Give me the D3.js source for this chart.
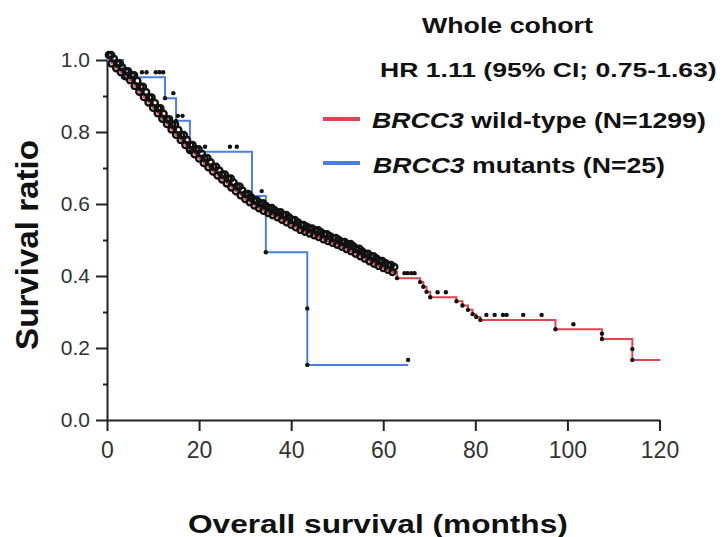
<!DOCTYPE html>
<html>
<head>
<meta charset="utf-8">
<script src="https://cdn.jsdelivr.net/npm/d3@7"></script>
<style>
  html, body { margin: 0; padding: 0; background: #fff; }
  svg { display: block; font-family: "Liberation Sans", Arial, sans-serif; }
</style>
</head>
<body>
<svg width="726" height="537"></svg>
<script>
const width = 726, height = 537;
const svg = d3.select("svg");

// Kaplan-Meier steps [months, survival]
const wildCurve = [
  [0, 1.0], [1, 0.99], [2, 0.977], [3, 0.966], [4, 0.955], [5, 0.944], [6, 0.928], [7, 0.912],
  [8, 0.897], [9, 0.882], [10, 0.867], [11, 0.852], [12, 0.837], [13, 0.822], [14, 0.807],
  [15, 0.792], [16, 0.778], [17, 0.764], [18, 0.75], [19, 0.738], [20, 0.726], [21, 0.714],
  [22, 0.702], [23, 0.69], [24, 0.679], [25, 0.668], [26, 0.657], [27, 0.646], [28, 0.635],
  [29, 0.624], [30, 0.614], [31, 0.605], [32, 0.596], [33, 0.588], [34, 0.581], [35, 0.575],
  [36, 0.569], [37, 0.563], [38, 0.556], [39, 0.549], [40, 0.542], [41, 0.535], [42, 0.528],
  [43, 0.523], [44, 0.518], [45, 0.513], [46, 0.508], [47, 0.502], [48, 0.497], [49, 0.492],
  [50, 0.487], [51, 0.481], [52, 0.475], [53, 0.469], [54, 0.462], [55, 0.455], [56, 0.448],
  [57, 0.441], [58, 0.434], [59, 0.428], [60, 0.422], [61, 0.417], [62, 0.411], [63, 0.394],
  [68.0, 0.383], [68.7, 0.37], [69.4, 0.356], [70.2, 0.341], [75.9, 0.33], [77.2, 0.318],
  [78.4, 0.306], [79.4, 0.294], [80.2, 0.286], [81.1, 0.278], [97.4, 0.252], [107.5, 0.24],
  [107.5, 0.225], [114.1, 0.197], [114.1, 0.167], [120.2, 0.167]
];
const wildCensor = [
  0.4, 0.9, 1.5, 2.2, 2.7, 3.3, 4.1, 4.6, 5.4, 5.9, 6.6, 7.3, 7.8, 8.5, 9.2, 9.7, 10.4, 11.1,
  11.6, 12.3, 13.0, 13.5, 14.2, 14.8, 15.5, 16.1, 16.7, 17.4, 18.1, 18.6, 19.3, 19.9, 20.6,
  21.2, 21.8, 22.5, 23.1, 23.7, 24.4, 25.0, 25.6, 26.3, 26.9, 27.5, 28.2, 28.8, 29.4, 30.1,
  30.7, 31.3, 32.0, 32.6, 33.2, 33.9, 34.5, 35.1, 35.8, 36.4, 37.0, 37.7, 38.3, 38.9, 39.6,
  40.2, 40.8, 41.5, 42.1, 42.7, 43.4, 44.0, 44.6, 45.3, 45.9, 46.5, 47.2, 47.8, 48.4, 49.1,
  49.7, 50.3, 51.0, 51.6, 52.2, 52.9, 53.5, 54.1, 54.8, 55.4, 56.0, 56.7, 57.3, 57.9, 58.6,
  59.2, 59.8, 60.5, 61.1, 61.7, 62.4,
  64.6, 65.3, 66.1, 66.8, 71.8, 73.6, 82.4, 84.2, 86.0, 86.8, 90.4, 94.4, 101.3
];
const mutCurve = [
  [0, 1.0], [3.5, 0.952], [12.6, 0.894], [15.0, 0.831], [18.0, 0.745], [31.5, 0.622],
  [34.5, 0.466], [43.5, 0.31], [43.5, 0.153], [65.4, 0.153]
];
const mutCensor = [5.0, 7.6, 8.6, 10.6, 11.4, 12.2, 14.4, 15.4, 16.4, 21.3, 26.7, 28.2, 33.6, 65.4];

const xTicks = [0, 20, 40, 60, 80, 100, 120];
const yTicks = [0, 0.2, 0.4, 0.6, 0.8, 1.0];
const yMinor = [0.1, 0.3, 0.5, 0.7, 0.9];

const red = "#e0454f", blue = "#4a7fe4";

const x = d3.scaleLinear().domain([0, 120]).range([107, 659.5]);
const y = d3.scaleLinear().domain([0, 1]).range([420, 60]);

// axes
const xAxis = svg.append("g").attr("transform", "translate(0,420)")
  .call(d3.axisBottom(x).tickValues(xTicks).tickSize(11).tickSizeOuter(0).tickPadding(11));
const yAxis = svg.append("g").attr("transform", "translate(107,0)")
  .call(d3.axisLeft(y).tickValues(yTicks).tickFormat(d3.format(".1f")).tickSize(11).tickSizeOuter(0).tickPadding(6));
svg.append("g").attr("transform", "translate(107,0)")
  .call(d3.axisLeft(y).tickValues(yMinor).tickFormat("").tickSize(4).tickSizeOuter(0))
  .select(".domain").remove();
svg.selectAll(".domain, .tick line").attr("stroke", "#222").attr("stroke-width", 2);
xAxis.selectAll("text").attr("font-size", 23).attr("fill", "#333").attr("font-family", "Liberation Sans, Arial, sans-serif");
yAxis.selectAll("text").attr("font-size", 21).attr("fill", "#333").attr("font-family", "Liberation Sans, Arial, sans-serif");

// survival step lines
const step = d3.line().x(d => x(d[0])).y(d => y(d[1])).curve(d3.curveStepAfter);
svg.append("path").datum(wildCurve).attr("fill", "none").attr("stroke", red).attr("stroke-width", 2).attr("d", step);
svg.append("path").datum(mutCurve).attr("fill", "none").attr("stroke", blue).attr("stroke-width", 2).attr("d", step);

// survival value at time t
const survAt = (curve, t) => {
  let s = curve[0][1];
  curve.forEach(d => { if (d[0] <= t) s = d[1]; });
  return s;
};

// symbols: events at step bottoms, censored cases slightly above the line.
// where they crowd together (dense early follow-up) they are drawn as open rings
const marks = svg.append("g");
function symbol(sel, dense) {
  sel.attr("r", d => dense(d) ? 3 : 2.2)
    .attr("fill", d => dense(d) ? "none" : "#111")
    .attr("stroke", "#111")
    .attr("stroke-width", d => dense(d) ? 2.4 : 0);
}
function drawMarks(curve, censor, denseUntil) {
  marks.selectAll(null).data(curve.slice(1, -1)).join("circle")
    .attr("cx", d => x(d[0])).attr("cy", d => y(d[1]))
    .call(symbol, d => d[0] < denseUntil);
  marks.selectAll(null).data(censor).join("circle")
    .attr("cx", d => x(d)).attr("cy", d => y(survAt(curve, d)) - 5)
    .call(symbol, d => d < denseUntil);
}
drawMarks(wildCurve, wildCensor, 63);
drawMarks(mutCurve, mutCensor, 0);

// text stretched to the width it has in the figure
function fitText(parts, x0, yb, size, w, rotate) {
  const t = svg.append("text").attr("font-size", size).attr("font-weight", "bold").attr("fill", "#111");
  parts.forEach(p => t.append("tspan").attr("font-style", p[1] ? "italic" : "normal").text(p[0]));
  const bw = t.node().getComputedTextLength();
  const sx = w / bw;
  if (rotate) t.attr("transform", `translate(${x0},${yb}) rotate(-90) scale(${sx},1)`).attr("text-anchor", "middle");
  else t.attr("transform", `translate(${x0},${yb}) scale(${sx},1)`);
  return t;
}

fitText([["Whole cohort", false]], 422, 33, 22, 171);
fitText([["HR 1.11 (95% CI; 0.75-1.63)", false]], 380, 77, 21, 337);
fitText([["BRCC3", true], [" wild-type (N=1299)", false]], 372, 128, 22, 334);
fitText([["BRCC3", true], [" mutants (N=25)", false]], 373, 173, 22, 292);

// legend swatches
svg.append("line").attr("x1", 323).attr("x2", 360).attr("y1", 119).attr("y2", 119).attr("stroke", red).attr("stroke-width", 4);
svg.append("line").attr("x1", 323).attr("x2", 360).attr("y1", 163).attr("y2", 163).attr("stroke", blue).attr("stroke-width", 4);

// axis titles
fitText([["Overall survival (months)", false]], 188, 533, 26, 380);
fitText([["Survival ratio", false]], 38, 245, 32, 210, true);
</script>
</body>
</html>
